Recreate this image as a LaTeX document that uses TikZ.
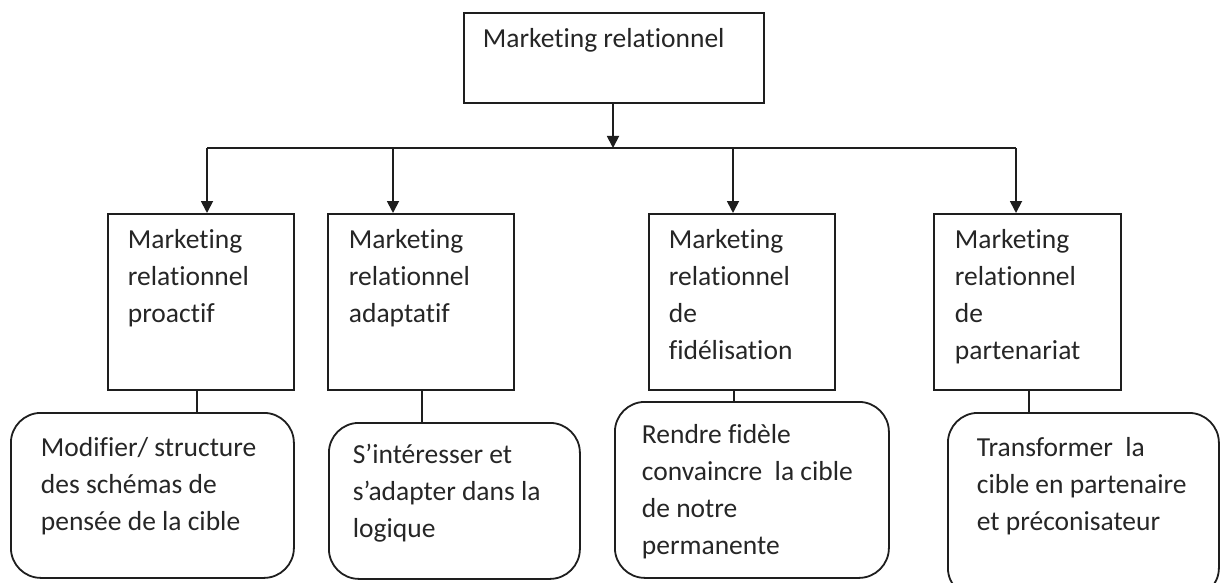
\documentclass[tikz,border=0pt]{standalone}
\usepackage{fontspec}
\setmainfont{Carlito}[Ligatures=NoCommon]
\usetikzlibrary{arrows.meta}
\definecolor{ink}{HTML}{1E1E1E}
\definecolor{txt}{HTML}{262626}
\newcommand\bxt[5]{\parbox[c][#2][t]{#1}{\fontsize{27.5pt}{37pt}\selectfont\color{txt}\raggedright\leftskip=#3\relax\rule{0pt}{#4}#5}}
\tikzset{
  bx/.style={draw=ink, line width=1.8pt, inner sep=0pt, anchor=north west},
  rbx/.style={bx, rounded corners=30pt},
  link/.style={draw=ink, line width=1.8pt},
  arr/.style={link, -{Triangle[width=12pt,length=12pt]}}
}
\begin{document}
\begin{tikzpicture}[x=1pt,y=-1pt]
\useasboundingbox[fill=white] (0,0) rectangle (1220,583);
% top
\node[bx] (top) at (463,12) {\bxt{300pt}{90pt}{19pt}{35pt}{Marketing relationnel}};
% level 2
\node[bx] (b1) at (107,213) {\bxt{186pt}{176pt}{20pt}{35pt}{Marketing\\relationnel\\proactif}};
\node[bx] (b2) at (327,213) {\bxt{186pt}{176pt}{21pt}{35pt}{Marketing\\relationnel\\adaptatif}};
\node[bx] (b3) at (648,213) {\bxt{186pt}{176pt}{20pt}{35pt}{Marketing\\relationnel\\de\\fidélisation}};
\node[bx] (b4) at (933,213) {\bxt{187pt}{176pt}{21pt}{35pt}{Marketing\\relationnel\\de\\partenariat}};
% level 3
\node[rbx] (r1) at (10,412) {\bxt{283pt}{165pt}{30pt}{44pt}{Modifier/ structure\\des schémas de\\pensée de la cible}};
\node[rbx] (r2) at (328,422) {\bxt{251pt}{156pt}{24pt}{41pt}{S’intéresser et\\s’adapter dans la\\logique}};
\node[rbx] (r3) at (614,401) {\bxt{274pt}{176pt}{27pt}{42pt}{Rendre fidèle\\convaincre\ \ la cible\\de notre\\permanente}};
\node[rbx] (r4) at (947,412) {\bxt{271pt}{185pt}{29pt}{44pt}{Transformer\ \ la\\cible en partenaire\\et préconisateur}};
% connector points
\coordinate (hub) at (613,148);
\coordinate (a1) at (207,148);
\coordinate (a2) at (393,148);
\coordinate (a3) at (733,148);
\coordinate (a4) at (1016,148);
\coordinate (c1) at (197,400);
\coordinate (c2) at (422,400);
\coordinate (c3) at (734,400);
\coordinate (c4) at (1029,400);
% connectors
\draw[arr] (hub |- top.south) -- (hub);
\draw[link] (a1) -- (a4);
\draw[arr] (a1) -- (a1 |- b1.north);
\draw[arr] (a2) -- (a2 |- b2.north);
\draw[arr] (a3) -- (a3 |- b3.north);
\draw[arr] (a4) -- (a4 |- b4.north);
\draw[link] (c1 |- b1.south) -- (c1 |- r1.north);
\draw[link] (c2 |- b2.south) -- (c2 |- r2.north);
\draw[link] (c3 |- b3.south) -- (c3 |- r3.north);
\draw[link] (c4 |- b4.south) -- (c4 |- r4.north);
\end{tikzpicture}
\end{document}
